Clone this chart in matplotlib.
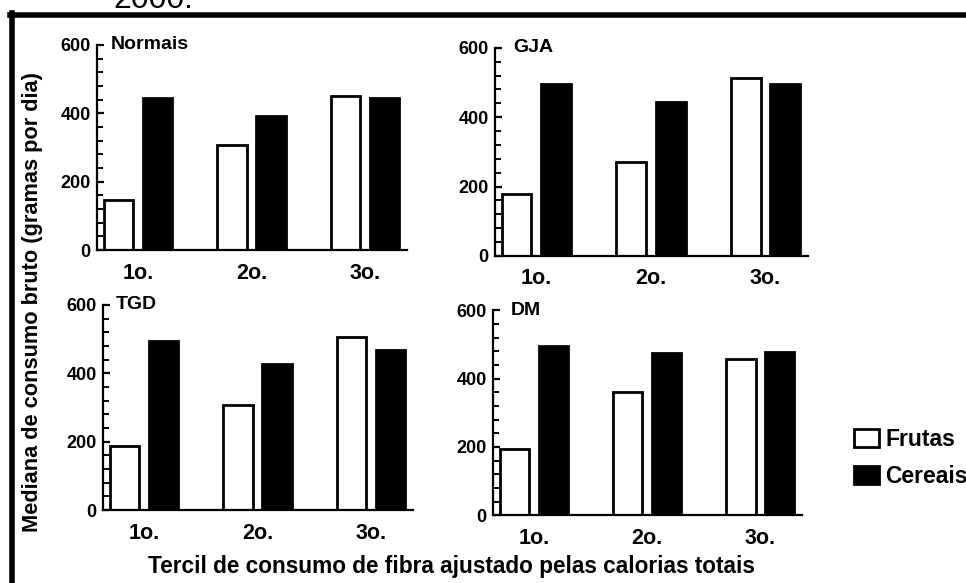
import matplotlib
matplotlib.use("Agg")
import matplotlib.pyplot as plt
from matplotlib.lines import Line2D
from matplotlib.ticker import MultipleLocator

plt.rcParams["font.family"] = ["Liberation Sans", "DejaVu Sans"]
plt.rcParams["font.weight"] = "bold"

terciles = ["1o.", "2o.", "3o."]
groups = ["Normais", "GJA", "TGD", "DM"]
frutas_normais = [146, 307, 451]
cereais_normais = [446, 392, 444]
frutas_gja = [179, 271, 514]
cereais_gja = [495, 443, 495]
frutas_tgd = [188, 307, 506]
cereais_tgd = [494, 428, 467]
frutas_dm = [193, 361, 456]
cereais_dm = [496, 476, 479]

frutas = [frutas_normais, frutas_gja, frutas_tgd, frutas_dm]
cereais = [cereais_normais, cereais_gja, cereais_tgd, cereais_dm]

# axes boxes in figure fraction (left, bottom, width, height)
boxes = [
    [0.1004, 0.571, 0.321, 0.352],
    [0.5124, 0.561, 0.324, 0.357],
    [0.1066, 0.125, 0.321, 0.352],
    [0.5104, 0.116, 0.320, 0.352],
]
title_x = [0.044, 0.057, 0.042, 0.057]

fig = plt.figure(figsize=(9.66, 5.83), dpi=100)
fig.patch.set_facecolor("white")

W, OFF = 0.26, 0.172
x = list(range(len(terciles)))
handles = None
for i, g in enumerate(groups):
    ax = fig.add_axes(boxes[i])
    bf = ax.bar([v - OFF for v in x], frutas[i], W, facecolor="white",
                edgecolor="black", linewidth=2.0, label="Frutas")
    bc = ax.bar([v + OFF for v in x], cereais[i], W, facecolor="black",
                edgecolor="black", linewidth=2.0, label="Cereais")
    handles = [bf, bc]
    ax.set_xlim(-0.36, 2.37)
    ax.set_ylim(0, 600)
    ax.yaxis.set_major_locator(MultipleLocator(200))
    ax.yaxis.set_minor_locator(MultipleLocator(40))
    ax.set_xticks(x)
    ax.set_xticklabels(terciles)
    for s in ["top", "right"]:
        ax.spines[s].set_visible(False)
    for s in ["left", "bottom"]:
        ax.spines[s].set_linewidth(1.6)
    ax.tick_params(axis="y", which="major", direction="in", length=5, width=1.6,
                   labelsize=13, pad=4.5)
    ax.tick_params(axis="y", which="minor", direction="in", length=4, width=1.4)
    ax.tick_params(axis="x", length=0, labelsize=15.5, pad=9)
    ax.text(title_x[i], 1.0, g, transform=ax.transAxes, ha="left", va="center",
            fontsize=14, fontweight="bold")

fig.legend(handles, ["Frutas", "Cereais"], loc="upper left",
           bbox_to_anchor=(854 / 966, 1 - 428 / 583), frameon=False,
           fontsize=16.5, handlelength=1.1, handleheight=0.85, handletextpad=0.26,
           labelspacing=0.6, borderaxespad=0, borderpad=0)

fig.text(0.034, 0.482, "Mediana de consumo bruto (gramas por dia)", rotation=90,
         ha="center", va="center", fontsize=15.7, fontweight="bold")
fig.text(0.467, 0.029, "Tercil de consumo de fibra ajustado pelas calorias totais",
         ha="center", va="center", fontsize=16.3, fontweight="bold")

# page frame and the cut-off caption above it
fig.add_artist(Line2D([10 / 966, 1.02], [1 - 15 / 583] * 2, color="black",
                      linewidth=4, transform=fig.transFigure))
fig.add_artist(Line2D([12 / 966] * 2, [1 - 13 / 583, -0.02], color="black",
                      linewidth=4, transform=fig.transFigure))
fig.text(113 / 966, 1 - 8.5 / 583, "2000.", ha="left", va="baseline",
         fontsize=23, fontweight="normal")

fig.savefig("out.png", dpi=100, facecolor="white")
